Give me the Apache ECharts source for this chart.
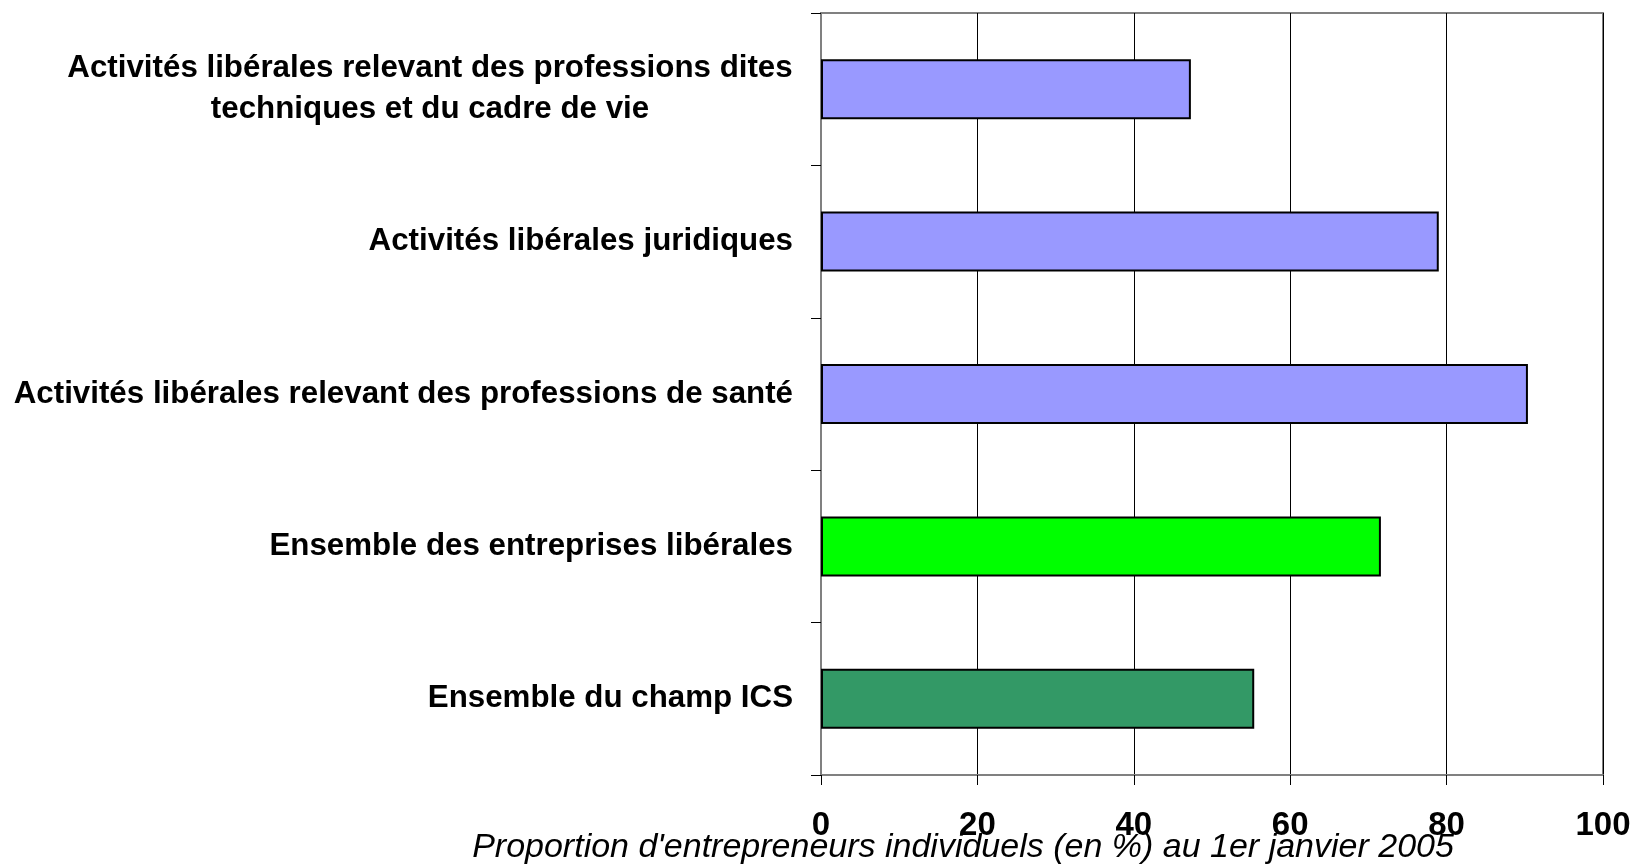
<!DOCTYPE html>
<html>
<head>
<meta charset="utf-8">
<script src="https://cdn.jsdelivr.net/npm/echarts@6/dist/echarts.min.js"></script>
<style>
  html, body { margin: 0; padding: 0; background: #fff; }
  #chart { width: 1641px; height: 868px; }
</style>
</head>
<body>
<div id="chart"></div>
<script>
// catégories (de haut en bas)
const categories = [
  'Activités libérales relevant des professions dites\ntechniques et du cadre de vie',
  'Activités libérales juridiques',
  'Activités libérales relevant des professions de santé',
  'Ensemble des entreprises libérales',
  'Ensemble du champ ICS'
]
const values = [47.3, 79.0, 90.4, 71.6, 55.4]
const barColors = ['#9999FF', '#9999FF', '#9999FF', '#00FF00', '#339966']
const axisTitle = "Proportion d'entrepreneurs individuels (en %) au 1er janvier 2005"

const FONT = 'Liberation Sans, Arial, sans-serif'
const LABEL_SIZE = 31.3

// largeur de la ligne la plus longue, pour centrer les libellés sur deux lignes
function textWidth(s) {
  const ctx = document.createElement('canvas').getContext('2d')
  ctx.font = 'bold ' + LABEL_SIZE + 'px ' + FONT
  return Math.ceil(ctx.measureText(s).width)
}

const chart = echarts.init(document.getElementById('chart'))

const option = {
  animation: false,
  textStyle: { fontFamily: FONT },
  grid: {
    left: 821,
    right: 38,
    top: 13,
    bottom: 93,
    show: true,
    borderColor: '#808080',
    borderWidth: 2
  },
  xAxis: {
    type: 'value',
    min: 0,
    max: 100,
    interval: 20,
    axisLine: { show: true, lineStyle: { color: '#808080', width: 2 } },
    axisTick: { show: true, length: 10, lineStyle: { color: '#000', width: 1 } },
    splitLine: { show: true, lineStyle: { color: '#000', width: 1 } },
    axisLabel: {
      color: '#000',
      fontSize: 33,
      fontWeight: 'bold',
      margin: 34
    }
  },
  yAxis: {
    type: 'category',
    inverse: true,
    data: categories,
    axisLine: { show: true, lineStyle: { color: '#808080', width: 2 } },
    axisTick: { show: true, length: 10, lineStyle: { color: '#000', width: 1 } },
    axisLabel: {
      color: '#000',
      fontSize: LABEL_SIZE,
      fontWeight: 'bold',
      margin: 28,
      align: 'right',
      formatter: (val) => {
        if (val.indexOf('\n') < 0) return val
        return val.split('\n').map(l => '{c|' + l + '}').join('\n')
      },
      rich: {
        c: {
          fontSize: LABEL_SIZE,
          fontWeight: 'bold',
          fontFamily: FONT,
          color: '#000',
          lineHeight: 41,
          align: 'center',
          width: textWidth(categories[0].split('\n')[0])
        }
      }
    }
  },
  graphic: [{
    type: 'text',
    x: 963,
    y: 848,
    style: {
      text: axisTitle,
      fontSize: 34,
      fontStyle: 'italic',
      fontFamily: FONT,
      fill: '#000',
      align: 'center',
      verticalAlign: 'middle'
    }
  }],
  series: [{
    type: 'bar',
    data: values.map((v, i) => ({
      value: v,
      itemStyle: { color: barColors[i] }
    })),
    barWidth: 60,
    itemStyle: { borderColor: '#000', borderWidth: 2 }
  }]
}

chart.setOption(option)
</script>
</body>
</html>
